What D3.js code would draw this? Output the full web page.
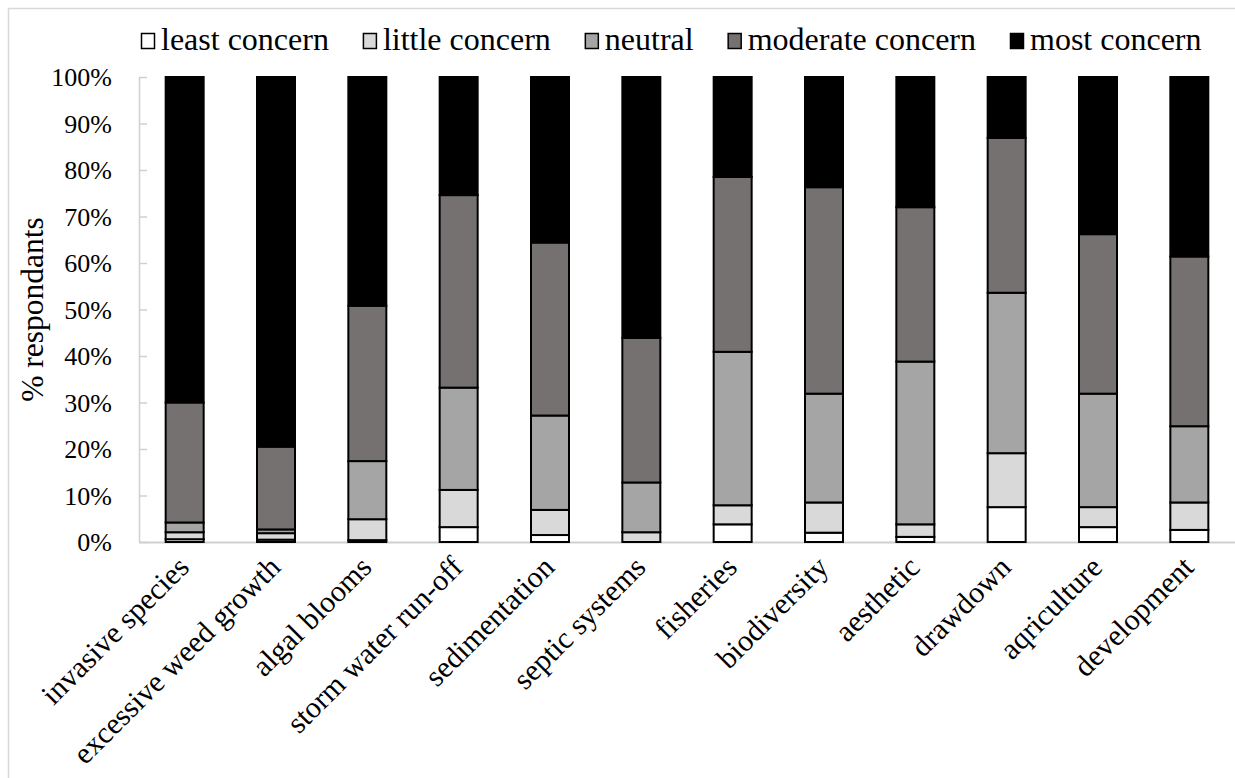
<!DOCTYPE html>
<html>
<head>
<meta charset="utf-8">
<script src="https://cdn.jsdelivr.net/npm/d3@7"></script>
<style>
  body { margin: 0; background: #fff; }
  svg text { font-family: "Liberation Serif", Tinos, "Times New Roman", Times, "DejaVu Serif", serif; fill: #000; }
</style>
</head>
<body>
<svg id="chart" width="1235" height="778"></svg>
<script>
const categories = ["invasive species", "excessive weed growth", "algal blooms", "storm water run-off",
  "sedimentation", "septic systems", "fisheries", "biodiversity", "aesthetic", "drawdown", "aqriculture", "development"];
const seriesNames = ["least concern", "little concern", "neutral", "moderate concern", "most concern"];
const leastConcern    = [0.6, 0.5, 0.4, 3.2, 1.5, 0.0, 3.8, 2.0, 1.1, 7.5, 3.2, 2.6];
const littleConcern   = [1.5, 1.4, 4.5, 8.0, 5.4, 2.1, 4.1, 6.5, 2.7, 11.6, 4.3, 5.9];
const neutral         = [2.1, 0.8, 12.5, 22.0, 20.3, 10.7, 33.0, 23.4, 35.0, 34.5, 24.4, 16.4];
const moderateConcern = [25.8, 17.8, 33.4, 41.4, 37.2, 31.1, 37.6, 44.4, 33.2, 33.3, 34.3, 36.5];
const mostConcern     = [70.0, 79.5, 49.2, 25.4, 35.6, 56.1, 21.5, 23.7, 28.0, 13.1, 33.8, 38.6];
const yTicks = [0, 0.1, 0.2, 0.3, 0.4, 0.5, 0.6, 0.7, 0.8, 0.9, 1.0];
const colors = ["#ffffff", "#d9d9d9", "#a5a5a5", "#767171", "#000000"];

const seriesValues = [leastConcern, littleConcern, neutral, moderateConcern, mostConcern];
const table = categories.map((c, i) => {
  const row = { category: c };
  const tot = seriesValues.reduce((s, arr) => s + arr[i], 0);
  seriesNames.forEach((n, k) => row[n] = seriesValues[k][i] / tot);
  return row;
});

const FONT = '"Liberation Serif", Tinos, "Times New Roman", Times, "DejaVu Serif", serif';
const svg = d3.select("#chart").attr("font-family", FONT);
const pLeft = 139, pRight = 1235, pTop = 77, pBottom = 542;

// outer chart border
svg.append("rect").attr("x", 8.5).attr("y", 8.5).attr("width", 1240).attr("height", 800)
  .attr("fill", "none").attr("stroke", "#d9d9d9").attr("stroke-width", 1.5);

const x = d3.scaleBand().domain(categories).range([pLeft, pRight]).paddingInner(0.584).paddingOuter(0.292);
const y = d3.scaleLinear().domain([0, 1]).range([pBottom, pTop]);

// y axis
const yAxis = svg.append("g").attr("transform", `translate(${pLeft},0)`)
  .call(d3.axisRight(y).tickValues(yTicks).tickSize(8).tickFormat(""));
yAxis.select(".domain").attr("stroke", "#d0d0d0").attr("stroke-width", 1.5).attr("d", `M0.5,${pTop}V${pBottom}`);
yAxis.selectAll(".tick line").attr("stroke", "#d0d0d0").attr("stroke-width", 1.5);

svg.append("g").selectAll("text").data(yTicks).join("text")
  .attr("font-family", FONT)
  .attr("x", 112).attr("y", d => y(d)).attr("dy", "0.35em")
  .attr("text-anchor", "end").attr("font-size", 26)
  .text(d => d3.format(".0%")(d));

// x baseline
const xAxis = svg.append("g").attr("transform", `translate(0,${pBottom})`)
  .call(d3.axisBottom(x).tickSize(0).tickFormat(""));
xAxis.select(".domain").attr("stroke", "#d0d0d0").attr("stroke-width", 2);

// bars
const stack = d3.stack().keys(seriesNames);
const stacked = stack(table);
svg.append("g").selectAll("g").data(stacked).join("g")
  .attr("fill", (d, i) => colors[i])
  .selectAll("rect").data(d => d).join("rect")
  .attr("x", d => x(d.data.category))
  .attr("width", x.bandwidth())
  .attr("y", d => y(d[1]))
  .attr("height", d => Math.max(0, y(d[0]) - y(d[1])))
  .attr("stroke", "#000").attr("stroke-width", 2);

// category labels
svg.append("g").selectAll("text").data(categories).join("text")
  .attr("font-family", FONT)
  .attr("transform", d => `translate(${x(d) + x.bandwidth() / 2 + 6},${pBottom + 27}) rotate(-45)`)
  .attr("text-anchor", "end").attr("font-size", 30)
  .text(d => d);

// y title
svg.append("text").attr("font-family", FONT)
  .attr("transform", `translate(43,${(pTop + pBottom) / 2}) rotate(-90)`)
  .attr("text-anchor", "middle").attr("font-size", 31.5).text("% respondants");

// legend
const legend = svg.append("g");
let lx = 141;
seriesNames.forEach((n, i) => {
  const g = legend.append("g").attr("transform", `translate(${lx},0)`);
  g.append("rect").attr("x", 0.5).attr("y", 33.5).attr("width", 13).attr("height", 15)
    .attr("fill", colors[i]).attr("stroke", "#000").attr("stroke-width", 1.5);
  const t = g.append("text").attr("font-family", FONT).attr("x", 20).attr("y", 50).attr("font-size", 32).text(n);
  lx += 20 + t.node().getComputedTextLength() + 34;
});
</script>
</body>
</html>
